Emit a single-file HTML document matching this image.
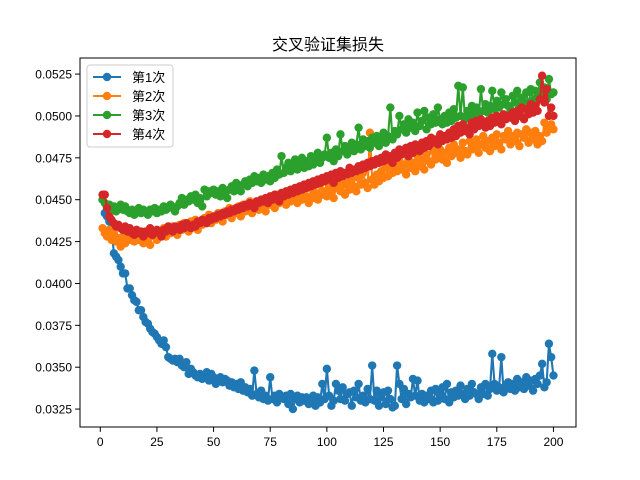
<!DOCTYPE html>
<html><head><meta charset="utf-8">
<style>
html,body{margin:0;padding:0;background:#fff;}
svg{display:block;font-family:"Liberation Sans","Noto Sans CJK SC",sans-serif;}
</style></head>
<body>
<svg id="chart" width="640" height="480" xmlns="http://www.w3.org/2000/svg">
<rect x="0" y="0" width="640" height="480" fill="#fff"/>
<text x="328" y="50" text-anchor="middle" font-size="16">交叉验证集损失</text>
<g id="series"></g>
<rect x="80" y="58" width="496" height="369" fill="none" stroke="#000" stroke-width="1"/>
<g id="axes"></g>
<g id="legend"></g>
</svg>
<script>
// loss values in units of 1e-4
const run1Loss=[450,442,440,437,433,418,416,414,410,406,406,397,397,393,390,389,384,384,380,377,376,373,371,370,368,366,364,366,362,356,355,354,355,353,355,351,350,353,346,349,347,345,344,346,343,344,347,342,346,344,340,343,344,341,343,342,339,341,338,340,337,341,336,338,335,337,333,348,334,332,336,331,333,330,344,331,333,329,334,332,331,333,328,334,325,331,333,329,332,330,332,328,330,333,327,332,329,340,331,349,333,327,330,340,336,331,338,330,334,335,327,336,332,340,330,333,329,337,331,351,330,336,327,332,335,328,336,331,326,327,351,340,331,337,328,334,332,343,333,342,330,334,329,333,331,336,329,337,330,334,338,331,340,329,335,332,336,333,339,334,331,337,333,340,335,334,331,338,334,340,333,337,358,340,336,338,356,335,339,341,337,340,336,343,338,341,337,344,339,342,336,343,340,345,352,338,341,364,356,345];
const run2Loss=[433,430,428,432,426,430,425,427,422,428,424,429,426,430,425,428,426,431,424,429,427,423,430,428,426,431,429,433,428,432,430,434,431,429,435,432,436,433,431,437,434,438,432,436,435,439,437,441,436,440,438,442,440,437,443,441,445,439,444,442,446,440,447,443,445,449,442,446,448,444,450,446,443,451,447,449,445,453,448,450,452,447,454,449,451,455,448,453,450,456,452,448,457,451,454,450,459,453,455,452,458,454,451,457,461,455,459,453,460,456,462,458,455,463,459,466,460,457,490,462,459,465,461,467,463,470,464,469,466,471,467,473,468,471,465,474,469,472,467,476,470,474,468,477,473,471,479,474,476,480,474,478,472,481,476,483,478,480,475,484,479,477,485,480,482,486,478,483,488,481,485,479,487,482,489,484,480,488,486,491,483,488,485,490,482,489,487,492,484,490,486,491,483,488,485,496,490,493,495,492];
const run3Loss=[450,448,446,447,444,446,443,445,447,444,446,443,442,444,441,443,445,442,444,443,441,444,443,445,442,444,443,446,444,445,447,445,443,446,448,451,447,450,449,452,450,453,448,451,446,456,452,455,454,456,453,455,452,457,454,451,456,458,455,460,457,455,459,461,458,462,460,464,461,463,460,465,462,464,461,466,463,468,465,476,466,469,472,467,470,474,468,471,475,469,473,470,476,471,474,478,472,475,477,487,475,478,473,480,476,489,479,482,477,481,484,479,483,493,480,486,482,485,481,487,484,488,482,486,490,484,488,505,486,491,489,500,492,495,490,498,493,496,491,502,494,497,503,492,499,495,501,496,505,498,495,500,496,502,497,504,499,518,500,517,498,503,499,506,501,505,500,516,503,507,502,506,515,504,509,505,514,507,510,506,504,512,508,515,505,511,508,514,506,516,509,515,511,520,512,517,510,522,513,514];
const run4Loss=[453,453,445,440,438,436,434,435,433,432,434,431,433,430,429,432,430,431,428,431,430,433,429,431,432,430,428,432,431,434,432,431,434,433,432,435,433,436,434,433,435,434,437,436,438,437,436,439,438,440,439,441,440,442,441,443,442,444,443,445,444,446,445,447,446,448,447,445,449,448,450,449,451,448,452,450,453,451,449,454,452,455,453,456,454,457,455,458,456,459,457,460,458,461,459,462,460,463,461,464,462,465,460,466,463,467,464,466,465,469,466,468,467,470,468,471,469,472,470,473,471,474,472,475,473,477,474,476,472,478,475,480,477,479,481,476,482,478,483,480,479,484,481,485,482,487,484,486,483,489,485,488,486,490,487,492,488,494,490,495,491,493,489,496,492,497,494,498,495,493,497,494,499,496,500,497,495,501,498,500,499,502,497,503,500,505,498,504,501,507,502,506,503,510,524,508,516,500,505,500];
const seriesLabels=["第1次","第2次","第3次","第4次"];
const seriesColors=["#1f77b4","#ff7f0e","#2ca02c","#d62728"];
const xTicks=[0,25,50,75,100,125,150,175,200];
const yTicks=[0.0325,0.0350,0.0375,0.0400,0.0425,0.0450,0.0475,0.0500,0.0525];
const yTickLabels=["0.0325","0.0350","0.0375","0.0400","0.0425","0.0450","0.0475","0.0500","0.0525"];

const NS="http://www.w3.org/2000/svg";
const L=80,R=576,T=58,B=427;
const xMin=-8.95,xMax=209.95,yMin=0.03143,yMax=0.05346;
const xs=v=>L+(v-xMin)/(xMax-xMin)*(R-L);
const ys=v=>B-(v-yMin)/(yMax-yMin)*(B-T);
function mk(tag,attrs,parent){const e=document.createElementNS(NS,tag);for(const k in attrs)e.setAttribute(k,attrs[k]);parent.appendChild(e);return e;}

const sg=document.getElementById('series');
const all=[run1Loss,run2Loss,run3Loss,run4Loss];
all.forEach((arr,si)=>{
  const g=mk('g',{},sg);
  
  
  const pts=arr.map((v,i)=>xs(i+1).toFixed(2)+','+ys(v/1e4).toFixed(2)).join(' ');
  const pl=mk('polyline',{points:pts,fill:'none',stroke:seriesColors[si],'stroke-width':2.1,'stroke-linejoin':'round'},g);
  
  
  arr.forEach((v,i)=>{
    const c=mk('circle',{cx:xs(i+1),cy:ys(v/1e4),r:4.2,fill:seriesColors[si]},g);
    
    
  });
});

const ag=document.getElementById('axes');
xTicks.forEach(t=>{
  const x=xs(t);
  const l=mk('line',{x1:x,x2:x,y1:B,y2:B+4.9,stroke:'#000','stroke-width':1},ag);
  
  
  const tx=mk('text',{x:x,y:B+19,'text-anchor':'middle','font-size':12},ag);
  tx.textContent=t;
  
  
});
yTicks.forEach((t,i)=>{
  const y=ys(t);
  const l=mk('line',{x1:L-4.9,x2:L,y1:y,y2:y,stroke:'#000','stroke-width':1},ag);
  
  
  const tx=mk('text',{x:L-8,y:y+4.5,'text-anchor':'end','font-size':12},ag);
  tx.textContent=yTickLabels[i];
  
  
});

const lg=document.getElementById('legend');
mk('rect',{x:87,y:65,width:86,height:82,rx:3,fill:'#fff','fill-opacity':0.8,stroke:'#ccc','stroke-width':1},lg);
seriesLabels.forEach((lab,i)=>{
  const y=77+i*19;
  const e=mk('g',{},lg);
  
  
  mk('line',{x1:93,x2:121,y1:y,y2:y,stroke:seriesColors[i],'stroke-width':2.1},e);
  mk('circle',{cx:107,cy:y,r:4.2,fill:seriesColors[i]},e);
  const t=mk('text',{x:132,y:y+5,'font-size':13},e);
  t.textContent=lab;
});
</script>
</body></html>
